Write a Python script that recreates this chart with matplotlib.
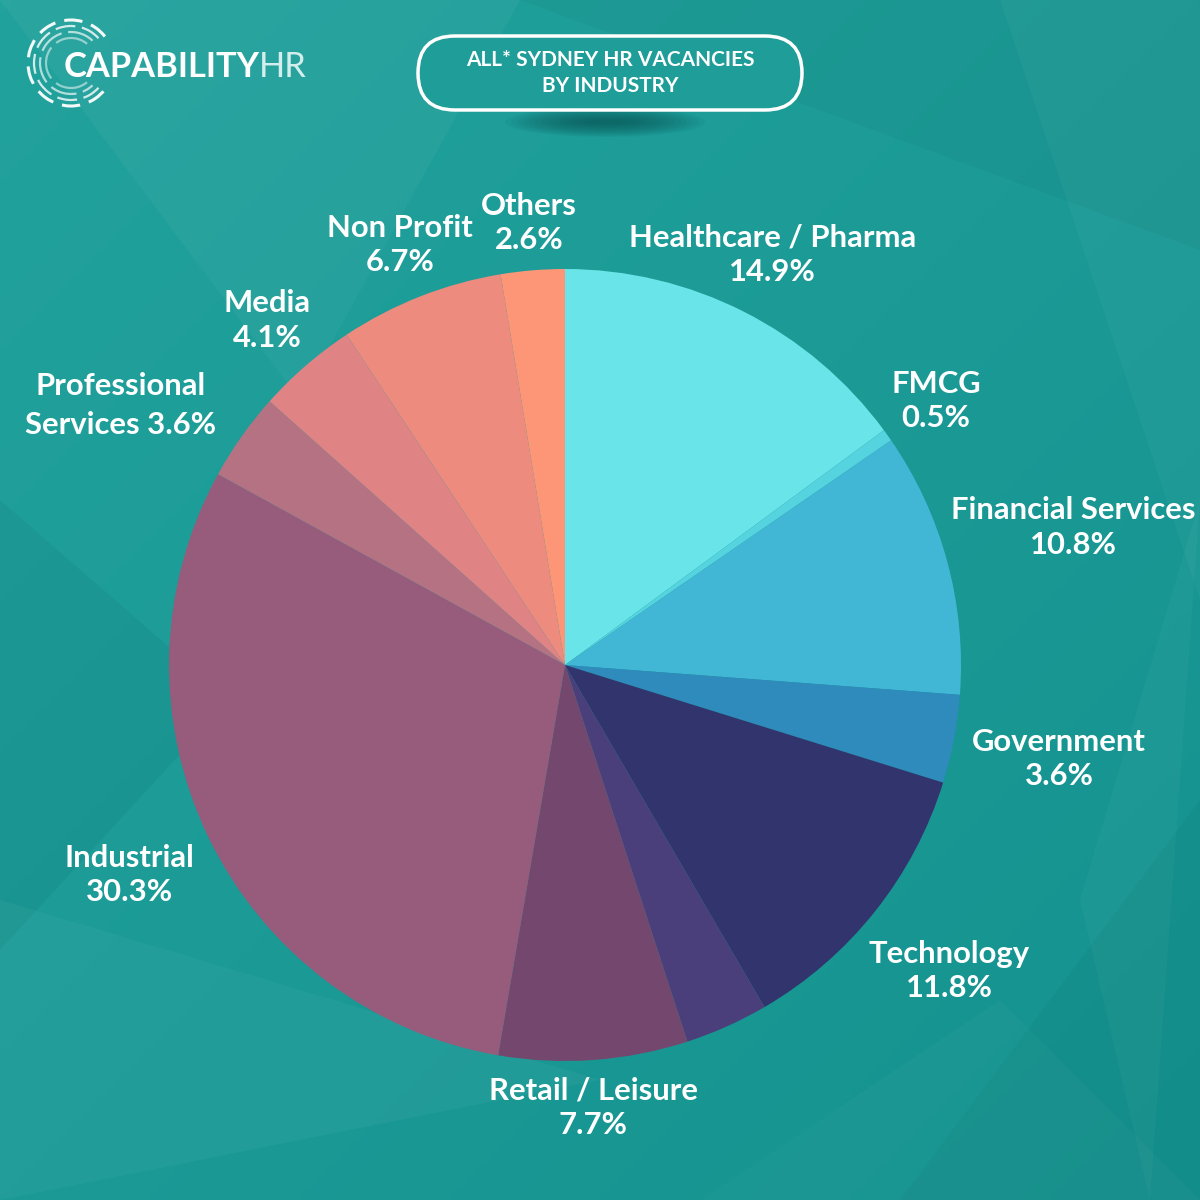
import numpy as np
import matplotlib
matplotlib.use("Agg")
import matplotlib.pyplot as plt
from matplotlib.patches import FancyBboxPatch, Polygon, Ellipse, Arc

plt.rcParams['font.family'] = ['Lato', 'DejaVu Sans']

# Data (clockwise from 12 o'clock)
industries = ['Healthcare / Pharma', 'FMCG', 'Financial Services', 'Government',
              'Technology', '', 'Retail / Leisure', 'Industrial',
              'Professional\nServices', 'Media', 'Non Profit', 'Others']
shares = [14.9, 0.5, 10.8, 3.6, 11.8, 3.4, 7.7, 30.3, 3.6, 4.1, 6.7, 2.6]
colors = ['#69e4e8', '#55d3df', '#42b7d5', '#2e8bbb', '#32346e', '#4a3f7a',
          '#74476e', '#975b7b', '#b57282', '#df8384', '#ec8b7e', '#fd9677']
# label distance from pie centre (in radii) and angle nudge (deg) for each slice
label_dist = [1.16, 1.15, 1.33, 1.27, 1.24, 0, 1.12, 1.22, 1.30, 1.15, 1.14, 1.12]
label_nudge = [0, 0, 0, 0, 0, 0, -0.5, 0, 5, 0, 0, 0]

fig = plt.figure(figsize=(12, 12), dpi=100)
ax = fig.add_axes([0, 0, 1, 1])

# Background gradient
yy, xx = np.mgrid[0:1:200j, 0:1:200j]
grad = 0.5 * xx + 0.5 * yy
ax.imshow(grad, extent=[0, 1200, 0, 1200], cmap=matplotlib.colors.LinearSegmentedColormap.from_list(
    'bg', ['#22a29d', '#14928f']), origin='upper', zorder=0)

# faint facets
facets = [
    ([(0, 1200), (520, 1200), (300, 800)], '#ffffff', 0.04),
    ([(520, 1200), (1200, 1200), (1200, 950)], '#000000', 0.03),
    ([(1000, 1200), (1200, 600), (1200, 1200)], '#ffffff', 0.03),
    ([(0, 700), (0, 250), (230, 500)], '#000000', 0.04),
    ([(0, 0), (0, 300), (600, 120)], '#ffffff', 0.04),
    ([(900, 0), (1200, 0), (1200, 400)], '#000000', 0.03),
    ([(1080, 300), (1200, 700), (1150, 0)], '#ffffff', 0.03),
    ([(700, 0), (1000, 200), (1200, 0)], '#ffffff', 0.025),
]
for pts, c, a in facets:
    ax.add_patch(Polygon(pts, closed=True, facecolor=c, edgecolor='none', alpha=a, zorder=1))

# Pie
cx, cy, r = 565, 535, 396
wedges, _ = ax.pie(shares, colors=colors, startangle=90, counterclock=False,
                   center=(cx, cy), radius=r, wedgeprops=dict(linewidth=0))
for w in wedges:
    w.set_zorder(3)

# Labels
for w, name, val, d, nudge in zip(wedges, industries, shares, label_dist, label_nudge):
    if not name:
        continue
    mid = np.deg2rad((w.theta1 + w.theta2) / 2 + nudge)
    x = cx + d * r * np.cos(mid)
    y = cy + d * r * np.sin(mid)
    if '\n' in name:
        first, second = name.split('\n')
        txt = f'{first}\n{second} {val}%'
        ls = 1.45
    else:
        txt = f'{name}\n{val}%'
        ls = 1.28
    ax.text(x, y, txt, ha='center', va='center', color='white', fontsize=22.3,
            fontweight='bold', linespacing=ls, zorder=5)

# Title pill with shadow
for i in range(14):
    ax.add_patch(Ellipse((605, 1078), 200 - i * 12, 30 - i * 2, facecolor='#0a5253',
                         edgecolor='none', alpha=0.07, zorder=2))
ax.add_patch(FancyBboxPatch((418, 1090), 384, 74, boxstyle='round,pad=0,rounding_size=37',
                            facecolor='#1e9d99', edgecolor='white', linewidth=2.5, zorder=4))
ax.text(610, 1127, 'ALL* SYDNEY HR VACANCIES\nBY INDUSTRY', ha='center', va='center',
        color='white', fontsize=15, fontweight='bold', linespacing=1.4, zorder=5)

# Logo
lx, ly = 71, 1137
for k, rad in enumerate([43, 37, 31, 25]):
    ax.add_patch(Arc((lx, ly), 2 * rad, 2 * rad, theta1=38 + k * 4, theta2=322 - k * 4,
                     color='white', linewidth=2.2 if k == 0 else 1.6,
                     linestyle=(0, (6 + k * 3, 3)), alpha=0.95 - k * 0.15, zorder=5))
ax.text(64, 1133, 'CAPABILITY', ha='left', va='center', color='white', fontsize=24.8,
        fontweight='bold', zorder=5)
ax.text(259, 1133, 'HR', ha='left', va='center', color='#d3eeec', fontsize=24.8,
        fontweight='normal', zorder=5)

ax.set_xlim(0, 1200)
ax.set_ylim(0, 1200)
ax.set_aspect('equal')
ax.axis('off')

plt.savefig('out.png', dpi=100)
